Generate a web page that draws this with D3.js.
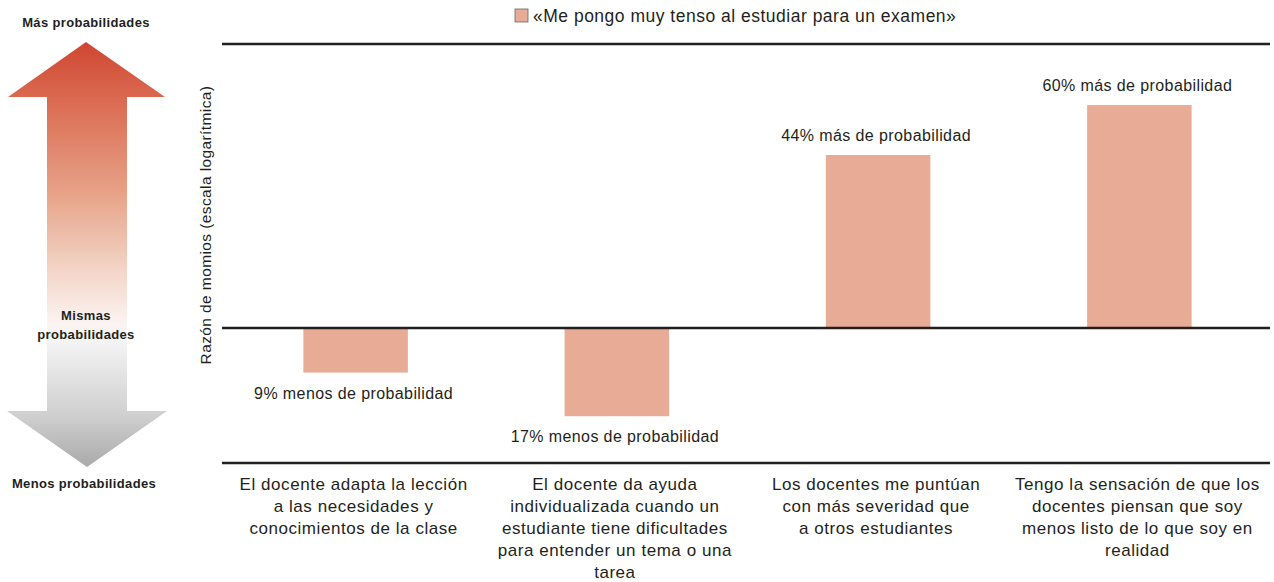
<!DOCTYPE html>
<html><head><meta charset="utf-8">
<script src="https://cdn.jsdelivr.net/npm/d3@7"></script>
<style>
html,body{margin:0;padding:0;background:#fff;}
svg{display:block;font-family:"Liberation Sans",Arial,sans-serif;}
</style></head>
<body>
<svg id="chart" width="1274" height="582"></svg>
<script>
// ---- data ----
const categories = [
  ["El docente adapta la lección", "a las necesidades y", "conocimientos de la clase"],
  ["El docente da ayuda", "individualizada cuando un", "estudiante tiene dificultades", "para entender un tema o una", "tarea"],
  ["Los docentes me puntúan", "con más severidad que", "a otros estudiantes"],
  ["Tengo la sensación de que los", "docentes piensan que soy", "menos listo de lo que soy en", "realidad"]
];
const oddsRatios = [0.91, 0.83, 1.44, 1.60];
const valueLabels = ["9% menos de probabilidad", "17% menos de probabilidad", "44% más de probabilidad", "60% más de probabilidad"];
const seriesName = "«Me pongo muy tenso al estudiar para un examen»";
const yTitle = "Razón de momios (escala logarítmica)";
const arrowLabels = ["Más probabilidades", "Mismas", "probabilidades", "Menos probabilidades"];
const yDomain = [0.752, 1.82];

// ---- drawing ----
const svg = d3.select("#chart");
const textColor = "#231f20";
const barColor = "#e8ab96";

const x = d3.scaleBand().domain(d3.range(categories.length)).range([225, 1270]).padding(0);
const y = d3.scaleLog().domain(yDomain).range([463, 44]);
const barW = x.bandwidth() * 0.4;

// arrow gradient
const defs = svg.append("defs");
const grad = defs.append("linearGradient").attr("id", "ag")
  .attr("gradientUnits", "userSpaceOnUse").attr("x1", 0).attr("x2", 0).attr("y1", 42).attr("y2", 467);
[[0, "#cf4631"], [0.12, "#d9664d"], [0.35, "#e6a186"], [0.55, "#f4d8cc"], [0.66, "#fbf3f0"], [0.7, "#f5f5f5"], [0.88, "#cfcfcf"], [1, "#a9a9a9"]]
  .forEach(([o, c]) => grad.append("stop").attr("offset", o).attr("stop-color", c));

svg.append("path")
  .attr("d", "M86,42 L165,97 L127,97 L127,411 L167,411 L87,467 L7,411 L47,411 L47,97 L8,97 Z")
  .attr("fill", "url(#ag)");

const bold = { "font-weight": "bold", "font-size": "13px", "letter-spacing": "0.35px", fill: textColor };
function addText(t, xx, yy, attrs) {
  const el = svg.append("text").attr("x", xx).attr("y", yy).attr("text-anchor", "middle").text(t);
  Object.entries(attrs).forEach(([k, v]) => el.attr(k, v));
  return el;
}
addText(arrowLabels[0], 86, 27, bold);
addText(arrowLabels[1], 86, 320, bold);
addText(arrowLabels[2], 86, 339, bold);
addText(arrowLabels[3], 84, 488, bold);

// legend
svg.append("rect").attr("x", 515).attr("y", 9).attr("width", 13).attr("height", 13)
  .attr("fill", barColor).attr("stroke", "#666").attr("stroke-width", 0.8);
svg.append("text").attr("x", 533).attr("y", 22).attr("font-size", "17.5px").attr("letter-spacing", "0.5px")
  .attr("fill", textColor).text(seriesName);

// y title
svg.append("text").attr("transform", "translate(211,225) rotate(-90)").attr("text-anchor", "middle")
  .attr("font-size", "15.5px").attr("letter-spacing", "0.4px").attr("fill", textColor).text(yTitle);

// bars
const g = svg.append("g");
g.selectAll("rect.bar").data(oddsRatios).join("rect")
  .attr("class", "bar")
  .attr("x", (d, i) => x(i) + x.bandwidth() / 2 - barW / 2)
  .attr("width", barW)
  .attr("y", d => Math.min(y(d), y(1)))
  .attr("height", d => Math.abs(y(d) - y(1)))
  .attr("fill", barColor);

// horizontal lines (axis frame)
[yDomain[1], 1, yDomain[0]].forEach(v => {
  svg.append("line").attr("x1", 222).attr("x2", 1270).attr("y1", y(v)).attr("y2", y(v))
    .attr("stroke", textColor).attr("stroke-width", 2.5);
});

// value labels
g.selectAll("text.val").data(oddsRatios).join("text")
  .attr("class", "val")
  .attr("x", (d, i) => x(i) + x.bandwidth() / 2 - 2)
  .attr("y", d => d >= 1 ? y(d) - 14 : y(d) + 26)
  .attr("text-anchor", "middle").attr("font-size", "16px").attr("letter-spacing", "0.4px").attr("fill", textColor)
  .text((d, i) => valueLabels[i]);

// category labels
categories.forEach((lines, i) => {
  const t = svg.append("text").attr("text-anchor", "middle").attr("font-size", "17px")
    .attr("letter-spacing", "0.55px").attr("fill", textColor);
  lines.forEach((ln, j) => {
    t.append("tspan").attr("x", x(i) + x.bandwidth() / 2 - 2).attr("y", 490 + j * 22).text(ln);
  });
});
</script>
</body></html>
